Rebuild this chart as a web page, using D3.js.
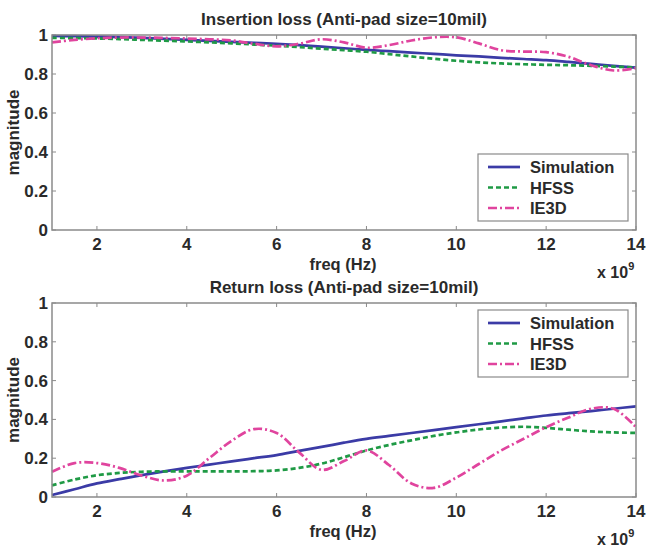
<!DOCTYPE html>
<html>
  <head>
    <script src="https://d3js.org/d3.v7.min.js" charset="utf-8"></script>
    <meta charset="UTF-8">
    <title>insertion / return loss</title>
    <style>
      body { margin: 0; background: #fff; }
      text { font-family: "Liberation Sans", Arial, sans-serif; fill: #2a2a2a; }
    </style>
  </head>
  <body>
    <svg class="chart"></svg>
    <script type="text/javascript">

     var width = 647,
         height = 552;

     // frequency samples, GHz (axis shows x 10^9)
     var freq = [1, 1.5, 2, 2.5, 3, 3.5, 4, 4.5, 5, 5.5, 6, 6.5, 7, 7.5, 8,
                 8.5, 9, 9.5, 10, 10.5, 11, 11.5, 12, 12.5, 13, 13.5, 14];

     var insSim  = [0.995, 0.994, 0.992, 0.989, 0.985, 0.980, 0.975, 0.970, 0.965, 0.960, 0.955, 0.948, 0.940, 0.932,
                    0.924, 0.917, 0.910, 0.903, 0.896, 0.890, 0.883, 0.877, 0.871, 0.862, 0.852, 0.842, 0.833];
     var insHfss = [0.985, 0.984, 0.982, 0.979, 0.975, 0.971, 0.967, 0.962, 0.957, 0.951, 0.945, 0.938, 0.930, 0.922,
                    0.914, 0.902, 0.890, 0.878, 0.868, 0.860, 0.854, 0.850, 0.847, 0.845, 0.842, 0.838, 0.833];
     var insIe3d = [0.962, 0.975, 0.983, 0.987, 0.987, 0.985, 0.982, 0.978, 0.972, 0.955, 0.942, 0.955, 0.978, 0.962,
                    0.935, 0.948, 0.972, 0.988, 0.988, 0.957, 0.922, 0.915, 0.912, 0.888, 0.845, 0.818, 0.830];

     var retSim  = [0.010, 0.040, 0.070, 0.092, 0.113, 0.132, 0.150, 0.167, 0.184, 0.200, 0.216, 0.238, 0.258, 0.280,
                    0.300, 0.315, 0.330, 0.345, 0.360, 0.375, 0.390, 0.405, 0.420, 0.432, 0.443, 0.455, 0.467];
     var retHfss = [0.060, 0.090, 0.112, 0.124, 0.130, 0.132, 0.132, 0.132, 0.132, 0.133, 0.137, 0.150, 0.172, 0.205,
                    0.240, 0.268, 0.292, 0.315, 0.333, 0.348, 0.358, 0.362, 0.356, 0.347, 0.338, 0.333, 0.330];
     var retIe3d = [0.130, 0.175, 0.175, 0.150, 0.110, 0.085, 0.110, 0.200, 0.290, 0.350, 0.330, 0.230, 0.140, 0.185,
                    0.240, 0.165, 0.070, 0.047, 0.100, 0.170, 0.240, 0.300, 0.360, 0.410, 0.455, 0.455, 0.360];

     var seriesNames = ["Simulation", "HFSS", "IE3D"];
     var xTicks = [2, 4, 6, 8, 10, 12, 14];
     var yTicks = [0, 0.2, 0.4, 0.6, 0.8, 1];

     var styles = {
         "Simulation": {color: "#3b3ba6", dash: null},
         "HFSS": {color: "#1f9a45", dash: "5,3"},
         "IE3D": {color: "#e0449e", dash: "9,3,2,3"}
     };

     var chart = d3.select(".chart")
                   .attr("width", width)
                   .attr("height", height);

     function drawPanel(opts) {
         var g = chart.append("g");
         var x = d3.scaleLinear().domain([1, 14]).range([52, 636]);
         var y = d3.scaleLinear().domain([0, 1]).range([opts.bottom, opts.top]);

         g.append("rect")
          .attr("x", x(1)).attr("y", y(1))
          .attr("width", x(14) - x(1)).attr("height", y(0) - y(1))
          .attr("fill", "#fff");

         // inward ticks on all four sides
         var tickLen = 4;
         g.selectAll(".xt").data(xTicks).enter().append("path")
          .attr("d", function(d) {
              return "M" + x(d) + "," + y(0) + "v" + (-tickLen) +
                     "M" + x(d) + "," + y(1) + "v" + tickLen;
          })
          .attr("stroke", "#8a8a8a").attr("stroke-width", 1);
         g.selectAll(".yt").data(yTicks).enter().append("path")
          .attr("d", function(d) {
              return "M" + x(1) + "," + y(d) + "h" + tickLen +
                     "M" + x(14) + "," + y(d) + "h" + (-tickLen);
          })
          .attr("stroke", "#8a8a8a").attr("stroke-width", 1);

         var line = d3.line()
                      .x(function(d) { return x(d[0]); })
                      .y(function(d) { return y(d[1]); })
                      .curve(d3.curveCatmullRom.alpha(0.5));

         seriesNames.forEach(function(name, i) {
             var pts = freq.map(function(f, j) { return [f, opts.values[i][j]]; });
             g.append("path")
              .attr("d", line(pts))
              .attr("fill", "none")
              .attr("stroke", styles[name].color)
              .attr("stroke-width", 2.7)
              .attr("stroke-dasharray", styles[name].dash);
         });

         g.append("rect")
          .attr("x", x(1)).attr("y", y(1))
          .attr("width", x(14) - x(1)).attr("height", y(0) - y(1))
          .attr("fill", "none").attr("stroke", "#8a8a8a").attr("stroke-width", 1.5);

         g.selectAll(".xl").data(xTicks).enter().append("text")
          .attr("x", function(d) { return x(d); })
          .attr("y", y(0) + 20)
          .attr("text-anchor", "middle")
          .attr("font-size", 17).attr("font-weight", "bold")
          .text(function(d) { return d; });
         g.selectAll(".yl").data(yTicks).enter().append("text")
          .attr("x", x(1) - 4)
          .attr("y", function(d) { return y(d) + 6; })
          .attr("text-anchor", "end")
          .attr("font-size", 17).attr("font-weight", "bold")
          .text(function(d) { return d; });

         g.append("text")
          .attr("x", 344).attr("y", opts.top - 10)
          .attr("text-anchor", "middle")
          .attr("font-size", 17).attr("font-weight", "bold")
          .text(opts.title);
         g.append("text")
          .attr("x", 343).attr("y", y(0) + 40)
          .attr("text-anchor", "middle")
          .attr("font-size", 16.5).attr("font-weight", "bold")
          .text("freq (Hz)");
         var ex = g.append("text")
          .attr("x", 597).attr("y", y(0) + 48)
          .attr("font-size", 16).attr("font-weight", "bold");
         ex.append("tspan").text("x 10");
         ex.append("tspan").attr("dy", -8).attr("font-size", 11).text("9");
         g.append("text")
          .attr("transform", "translate(19," + ((y(0) + y(1)) / 2) + ") rotate(-90)")
          .attr("text-anchor", "middle")
          .attr("font-size", 17).attr("font-weight", "bold")
          .text("magnitude");

         // legend
         var lg = g.append("g").attr("transform", "translate(478," + opts.legendTop + ")");
         lg.append("rect")
           .attr("width", 150).attr("height", 67)
           .attr("fill", "#fff").attr("stroke", "#8a8a8a").attr("stroke-width", 1.2);
         seriesNames.forEach(function(name, i) {
             var ry = 13 + i * 20.5;
             lg.append("line")
               .attr("x1", 10).attr("x2", 42).attr("y1", ry).attr("y2", ry)
               .attr("stroke", styles[name].color)
               .attr("stroke-width", 2.7)
               .attr("stroke-dasharray", styles[name].dash);
             lg.append("text")
               .attr("x", 52).attr("y", ry + 6)
               .attr("font-size", 16.5).attr("font-weight", "bold")
               .text(name);
         });
     }

     drawPanel({top: 35, bottom: 230, legendTop: 154,
                title: "Insertion loss (Anti-pad size=10mil)",
                values: [insSim, insHfss, insIe3d]});
     drawPanel({top: 303, bottom: 497, legendTop: 310,
                title: "Return loss (Anti-pad size=10mil)",
                values: [retSim, retHfss, retIe3d]});

    </script>
  </body>
</html>
